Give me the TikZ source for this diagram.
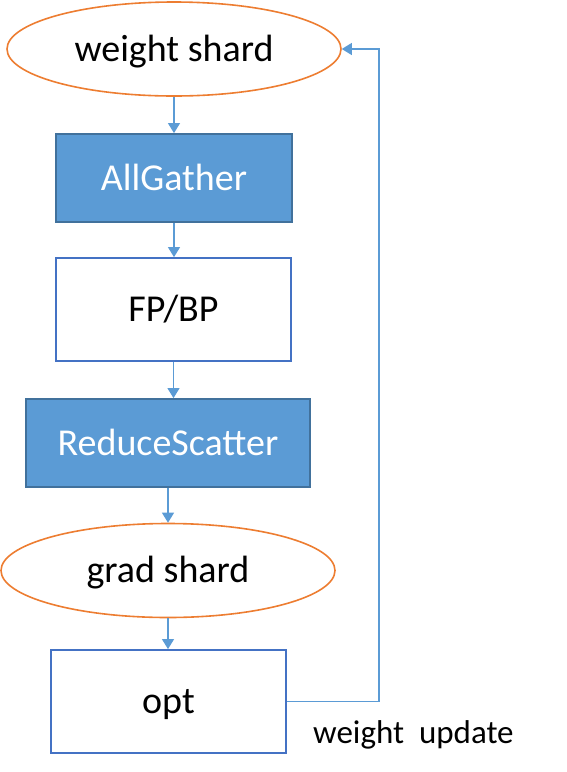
\documentclass[tikz,border=0pt]{standalone}
\usepackage{fontspec}
\setmainfont{Carlito}
\usetikzlibrary{shapes.geometric,arrows.meta}
\definecolor{orng}{HTML}{ED7D31}
\definecolor{bfill}{HTML}{5B9BD5}
\definecolor{bdark}{HTML}{41719C}
\definecolor{bline}{HTML}{4472C4}
\definecolor{arr}{HTML}{5B9BD5}
\tikzset{
  txt/.style={font=\fontsize{38}{42}\selectfont,text height=30pt,text depth=6pt},
  shardnode/.style={txt,ellipse,draw=orng,line width=1.6pt,fill=white,inner sep=0pt,
    minimum width=334pt,minimum height=94pt},
  commbox/.style={txt,rectangle,draw=bdark,line width=1.8pt,fill=bfill,text=white,inner sep=0pt,
    minimum height=88pt},
  compbox/.style={txt,rectangle,draw=bline,line width=1.8pt,fill=white,inner sep=0pt,
    minimum width=235pt,minimum height=103pt},
  flow/.style={draw=arr,line width=1.1pt,-{Triangle[length=10pt,width=12pt]}},
}
\begin{document}
\begin{tikzpicture}[x=1pt,y=-1pt]
\useasboundingbox (0,0) rectangle (567,772);
\node[shardnode] (ws) at (174,49) {weight shard};
\node[commbox,minimum width=236pt] (ag) at (174,178) {AllGather};
\node[compbox] (fp) at (173.5,309.5) {FP/BP};
\node[commbox,minimum width=284pt] (rs) at (168,443) {ReduceScatter};
\node[shardnode] (gs) at (168,570.5) {grad shard};
\node[compbox] (opt) at (168.5,701.5) {opt};
\coordinate (c1) at (379,701.5);
\coordinate (c2) at (379,49);
\draw[flow] (ws.south) -- (ws.south |- ag.north);
\draw[flow] (ag.south) -- (ag.south |- fp.north);
\draw[flow] (fp.south) -- (fp.south |- rs.north);
\draw[flow] (rs.south) -- (rs.south |- gs.north);
\draw[flow] (gs.south) -- (gs.south |- opt.north);
\draw[flow] (opt.east) -- (c1) -- (c2) -- (ws.east);
\node[anchor=base west,inner sep=0pt,font=\fontsize{33}{37}\selectfont] (lbl) at (313,743) {weight\ \ update};
\end{tikzpicture}
\end{document}
